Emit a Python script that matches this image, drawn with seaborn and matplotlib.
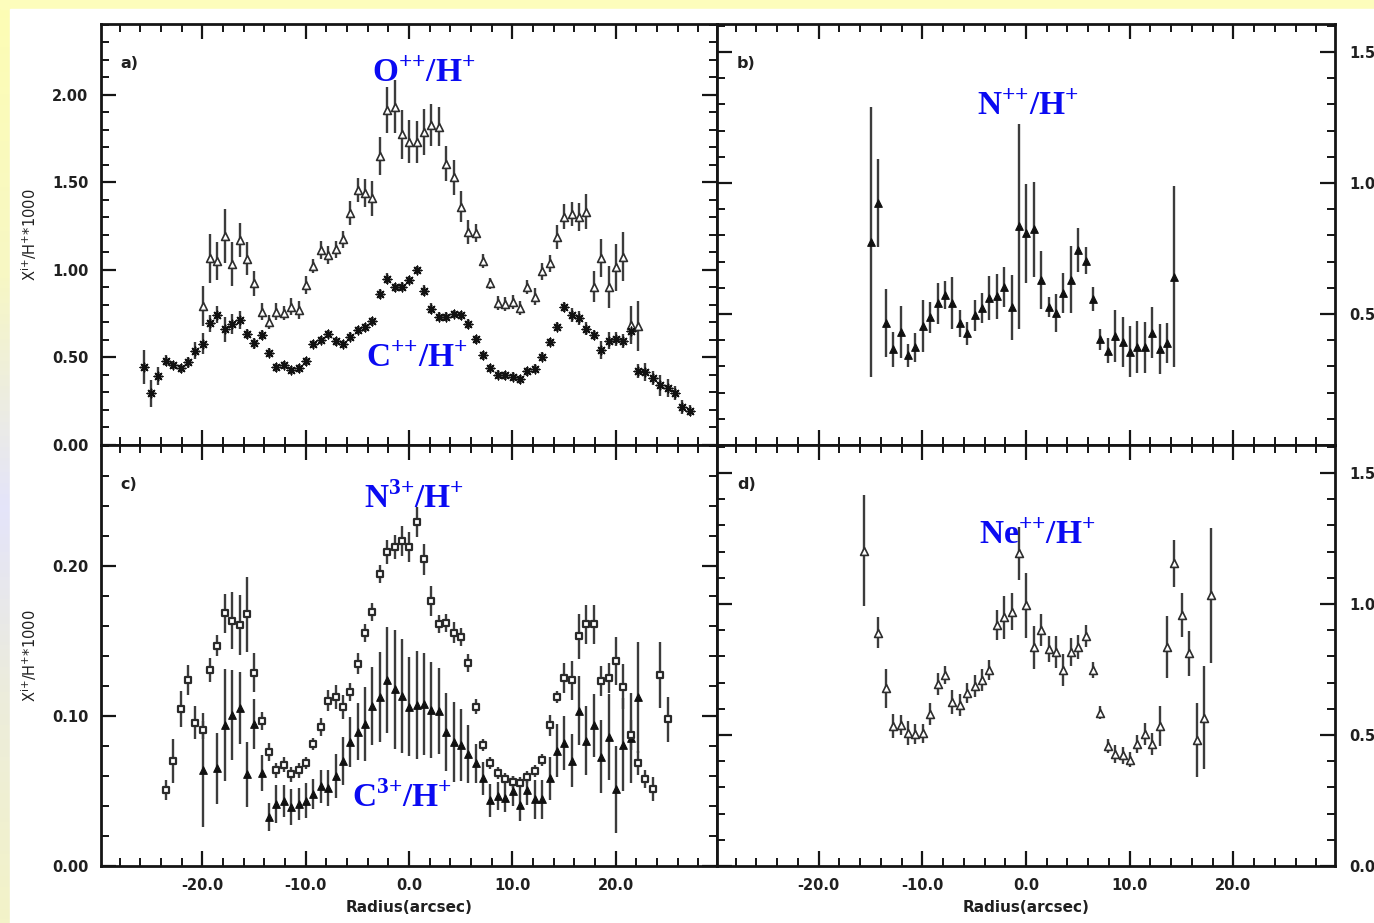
import numpy as np
import matplotlib
matplotlib.use("Agg")
import matplotlib.pyplot as plt
import seaborn as sns
from matplotlib.ticker import MultipleLocator, FormatStrFormatter, FixedLocator
from matplotlib.patches import Rectangle
from matplotlib.colors import LinearSegmentedColormap

# ---------------------------------------------------------------- data
# slit positions along the cut (arcsec)
radius = [
    -25.67, -24.96, -24.24, -23.53, -22.81, -22.10, -21.39, -20.67, -19.96, -19.24,
    -18.53, -17.82, -17.10, -16.39, -15.67, -14.96, -14.25, -13.53, -12.82, -12.10,
    -11.39, -10.68, -9.96, -9.25, -8.53, -7.82, -7.11, -6.39, -5.68, -4.96,
    -4.25, -3.54, -2.82, -2.11, -1.39, -0.68, 0.03, 0.74, 1.46, 2.17,
    2.89, 3.60, 4.31, 5.03, 5.74, 6.46, 7.17, 7.88, 8.60, 9.31,
    10.03, 10.74, 11.45, 12.17, 12.88, 13.60, 14.31, 15.02, 15.74, 16.45,
    17.17, 17.88, 18.59, 19.31, 20.02, 20.74, 21.45, 22.16, 22.88, 23.59,
    24.31, 25.02, 25.73, 26.45, 27.16,
]

# a) C++/H+ (slits 0-74)
c2_val = [
    0.444, 0.295, 0.394, 0.482, 0.457, 0.438, 0.472, 0.539, 0.577, 0.695,
    0.745, 0.661, 0.691, 0.714, 0.634, 0.581, 0.627, 0.528, 0.444, 0.457,
    0.429, 0.438, 0.478, 0.577, 0.600, 0.634, 0.592, 0.577, 0.619, 0.657,
    0.672, 0.707, 0.863, 0.950, 0.901, 0.905, 0.943, 1.000, 0.882, 0.779,
    0.733, 0.733, 0.749, 0.741, 0.691, 0.604, 0.512, 0.440, 0.402, 0.398,
    0.390, 0.375, 0.421, 0.436, 0.505, 0.589, 0.676, 0.787, 0.741, 0.726,
    0.665, 0.627, 0.543, 0.596, 0.604, 0.592, 0.650, 0.421, 0.417, 0.383,
    0.341, 0.326, 0.295, 0.219, 0.196,
]
c2_err = [
    0.097, 0.076, 0.05, 0.03, 0.025, 0.025, 0.03, 0.05, 0.06, 0.05,
    0.05, 0.07, 0.055, 0.05, 0.03, 0.03, 0.03, 0.025, 0.025, 0.025,
    0.025, 0.025, 0.025, 0.025, 0.025, 0.025, 0.025, 0.025, 0.025, 0.025,
    0.025, 0.025, 0.03, 0.03, 0.025, 0.025, 0.025, 0.025, 0.03, 0.03,
    0.025, 0.025, 0.025, 0.025, 0.03, 0.025, 0.025, 0.025, 0.025, 0.025,
    0.025, 0.025, 0.025, 0.025, 0.025, 0.025, 0.025, 0.03, 0.04, 0.04,
    0.035, 0.03, 0.05, 0.05, 0.04, 0.04, 0.05, 0.04, 0.05, 0.04,
    0.06, 0.05, 0.04, 0.04, 0.03,
]

# a) O++/H+ (slits 8-67)
o2_first = 8
o2_val = [
    0.794, 1.067, 1.050, 1.194, 1.034, 1.171, 1.065, 0.924, 0.762, 0.703,
    0.762, 0.752, 0.790, 0.771, 0.914, 1.023, 1.114, 1.084, 1.118, 1.175,
    1.324, 1.457, 1.438, 1.410, 1.651, 1.914, 1.933, 1.775, 1.733, 1.733,
    1.789, 1.830, 1.819, 1.606, 1.530, 1.362, 1.217, 1.210, 1.053, 0.924,
    0.813, 0.806, 0.817, 0.781, 0.905, 0.848, 0.992, 1.038, 1.187, 1.305,
    1.320, 1.305, 1.333, 0.905, 1.067, 0.905, 1.015, 1.076, 0.686, 0.680,
]
o2_err = [
    0.116, 0.141, 0.11, 0.157, 0.126, 0.097, 0.092, 0.07, 0.05, 0.04,
    0.05, 0.04, 0.05, 0.05, 0.05, 0.04, 0.05, 0.05, 0.05, 0.05,
    0.07, 0.07, 0.08, 0.10, 0.11, 0.13, 0.15, 0.14, 0.124, 0.12,
    0.13, 0.12, 0.11, 0.10, 0.10, 0.09, 0.07, 0.05, 0.04, 0.03,
    0.04, 0.04, 0.04, 0.04, 0.04, 0.05, 0.05, 0.05, 0.07, 0.07,
    0.07, 0.08, 0.10, 0.089, 0.11, 0.12, 0.136, 0.138, 0.108, 0.143,
]

# b) N++/H+ (slits 15-56)
n2_first = 15
n2_val = [
    0.774, 0.925, 0.467, 0.366, 0.431, 0.342, 0.373, 0.454, 0.487, 0.541,
    0.574, 0.541, 0.464, 0.426, 0.495, 0.523, 0.561, 0.567, 0.602, 0.526,
    0.835, 0.808, 0.823, 0.630, 0.526, 0.505, 0.579, 0.630, 0.744, 0.704,
    0.556, 0.403, 0.360, 0.416, 0.394, 0.356, 0.373, 0.373, 0.429, 0.365,
    0.388, 0.642,
]
n2_err = [
    0.515, 0.168, 0.13, 0.067, 0.098, 0.045, 0.055, 0.10, 0.06, 0.079,
    0.053, 0.10, 0.05, 0.045, 0.058, 0.057, 0.083, 0.087, 0.076, 0.124,
    0.391, 0.188, 0.18, 0.11, 0.038, 0.072, 0.076, 0.128, 0.083, 0.051,
    0.046, 0.041, 0.048, 0.099, 0.095, 0.098, 0.099, 0.097, 0.097, 0.095,
    0.076, 0.345,
]

# c) N3+/H+ (slits 3-71)
n3_first = 3
n3_val = [
    0.0507, 0.0702, 0.1044, 0.1240, 0.0956, 0.0907, 0.1307, 0.1467, 0.1684, 0.1636,
    0.1604, 0.1680, 0.1290, 0.0969, 0.0758, 0.0640, 0.0676, 0.0613, 0.0640, 0.0689,
    0.0813, 0.0924, 0.1102, 0.1124, 0.1058, 0.1162, 0.1347, 0.1551, 0.1696, 0.1947,
    0.2096, 0.2129, 0.2169, 0.2129, 0.2296, 0.2044, 0.1769, 0.1613, 0.1618, 0.1556,
    0.1524, 0.1356, 0.1062, 0.0807, 0.0684, 0.0618, 0.0582, 0.0562, 0.0556, 0.0596,
    0.0633, 0.0707, 0.0940, 0.1129, 0.1251, 0.1240, 0.1533, 0.1613, 0.1613, 0.1236,
    0.1253, 0.1369, 0.1196, 0.0873, 0.0689, 0.0578, 0.0511, 0.1271, 0.0978,
]
n3_err = [
    0.0065, 0.0148, 0.012, 0.010, 0.011, 0.006, 0.0078, 0.007, 0.013, 0.019,
    0.020, 0.025, 0.013, 0.006, 0.006, 0.005, 0.005, 0.005, 0.005, 0.004,
    0.004, 0.006, 0.007, 0.008, 0.008, 0.006, 0.007, 0.006, 0.006, 0.006,
    0.008, 0.008, 0.010, 0.010, 0.010, 0.0106, 0.010, 0.006, 0.006, 0.007,
    0.006, 0.006, 0.005, 0.004, 0.004, 0.004, 0.004, 0.004, 0.004, 0.004,
    0.004, 0.004, 0.007, 0.004, 0.010, 0.013, 0.015, 0.013, 0.013, 0.010,
    0.010, 0.016, 0.015, 0.010, 0.008, 0.006, 0.008, 0.022, 0.015,
]

# c) C3+/H+ (slits 8-67, slit 9 missing)
c3_first = 8
c3_val = [
    0.0640, np.nan, 0.0651, 0.0940, 0.1004, 0.1056, 0.0611, 0.0947, 0.0622, 0.0329,
    0.0413, 0.0436, 0.0391, 0.0413, 0.0436, 0.0480, 0.0533, 0.0518, 0.0600, 0.0702,
    0.0829, 0.0896, 0.0947, 0.1067, 0.1124, 0.1240, 0.1178, 0.1133, 0.1062, 0.1071,
    0.1080, 0.1040, 0.1033, 0.0896, 0.0829, 0.0807, 0.0747, 0.0684, 0.0584, 0.0440,
    0.0467, 0.0451, 0.0502, 0.0407, 0.0507, 0.0444, 0.0444, 0.0584, 0.0769, 0.0818,
    0.0702, 0.1036, 0.0836, 0.0940, 0.0729, 0.0858, 0.0511, 0.0807, 0.0851, 0.1124,
]
c3_err = [
    0.0378, np.nan, 0.0238, 0.0374, 0.030, 0.024, 0.0217, 0.0167, 0.012, 0.0094,
    0.0126, 0.0106, 0.012, 0.0106, 0.0117, 0.010, 0.011, 0.012, 0.0144, 0.016,
    0.0167, 0.019, 0.0247, 0.026, 0.030, 0.0353, 0.0397, 0.038, 0.033, 0.036,
    0.034, 0.032, 0.0286, 0.026, 0.0267, 0.024, 0.0194, 0.013, 0.011, 0.011,
    0.0094, 0.009, 0.010, 0.0106, 0.0103, 0.0128, 0.013, 0.0144, 0.0178, 0.018,
    0.0178, 0.0228, 0.023, 0.021, 0.0244, 0.0286, 0.029, 0.031, 0.030, 0.037,
]

# d) Ne++/H+ (slits 14-61, slit 15 missing)
ne2_first = 14
ne2_val = [
    1.204, np.nan, 0.891, 0.678, 0.534, 0.538, 0.506, 0.503, 0.506, 0.580,
    0.695, 0.730, 0.627, 0.614, 0.659, 0.687, 0.710, 0.748, 0.920, 0.949,
    0.971, 1.193, 0.996, 0.835, 0.901, 0.827, 0.817, 0.748, 0.817, 0.835,
    0.878, 0.748, 0.585, 0.458, 0.427, 0.422, 0.405, 0.466, 0.504, 0.466,
    0.534, 0.837, 1.155, 0.958, 0.812, 0.481, 0.566, 1.034,
]
ne2_err = [
    0.213, np.nan, 0.06, 0.074, 0.045, 0.038, 0.046, 0.038, 0.036, 0.043,
    0.041, 0.035, 0.046, 0.041, 0.038, 0.043, 0.041, 0.038, 0.057, 0.083,
    0.07, 0.10, 0.124, 0.083, 0.06, 0.05, 0.06, 0.06, 0.054, 0.045,
    0.041, 0.032, 0.024, 0.025, 0.033, 0.032, 0.029, 0.035, 0.041, 0.041,
    0.075, 0.118, 0.089, 0.083, 0.085, 0.143, 0.197, 0.258,
]

panel_tags = ["a)", "b)", "c)", "d)"]
y_label = r"X$^{\mathsf{i{+}}}$/H$^{\mathsf{{+}}}$*1000"
x_label = "Radius(arcsec)"

# ---------------------------------------------------------------- style
sns.set_theme(style="ticks")
plt.rcParams["font.family"] = ["DejaVu Sans"]
plt.rcParams["mathtext.fontset"] = "custom"
plt.rcParams["mathtext.rm"] = "Liberation Serif"
plt.rcParams["mathtext.bf"] = "Liberation Serif:bold"
plt.rcParams["mathtext.sf"] = "DejaVu Sans"
plt.rcParams["mathtext.it"] = "DejaVu Sans:italic"

W, H = 1374, 923
fig = plt.figure(figsize=(W / 100, H / 100), dpi=100)
fig.patch.set_facecolor("white")

# pastel frame behind the plotting sheet
bg = fig.add_axes([0, 0, 1, 1], zorder=-10)
bg.set_xlim(0, W)
bg.set_ylim(H, 0)
bg.axis("off")
frame_cmap = LinearSegmentedColormap.from_list(
    "frame",
    [(0.0, "#fdfdb4"), (0.3, "#f7f7c4"), (0.55, "#e4e4fa"),
     (0.75, "#ececdc"), (1.0, "#f3f3c8")],
)
bg.imshow(np.linspace(0, 1, 256)[:, None], cmap=frame_cmap, aspect="auto",
          extent=(0, 10, H, 0), zorder=0)
bg.add_patch(Rectangle((0, 0), W, 9, color="#fdfdbc", zorder=1))
bg.add_patch(Rectangle((10, 9), W - 10, H - 9, color="white", zorder=2))


def box(px_left, px_top, px_w, px_h):
    return [px_left / W, 1 - (px_top + px_h) / H, px_w / W, px_h / H]


ax_a = fig.add_axes(box(101, 24, 616, 421))
ax_b = fig.add_axes(box(717, 24, 618, 421))
ax_c = fig.add_axes(box(101, 445, 616, 421))
ax_d = fig.add_axes(box(717, 445, 618, 421))

rad = np.array(radius)
ERR_COLOR = "#3c3c3c"


def series(ax, first, values, errors, marker, size, face, edge, lw=1.2):
    x = rad[first:first + len(values)]
    y = np.array(values, dtype=float)
    e = np.array(errors, dtype=float)
    ax.errorbar(x, y, yerr=e, fmt="none", ecolor=ERR_COLOR, elinewidth=1.7,
                capsize=0, zorder=2)
    if face is None:
        sns.scatterplot(x=x, y=y, marker=marker, s=size, color=edge,
                        linewidth=lw, ax=ax, zorder=3, legend=False)
    else:
        sns.scatterplot(x=x, y=y, marker=marker, s=size, facecolor=face,
                        edgecolor=edge, linewidth=lw, ax=ax, zorder=3,
                        legend=False)


# a) O++ and C++
series(ax_a, o2_first, o2_val, o2_err, "^", 32, "white", "#2e2e2e", 1.2)
series(ax_a, 0, c2_val, c2_err, (8, 2, 0), 38, None, "#111111", 1.1)
# b) N++
series(ax_b, n2_first, n2_val, n2_err, "^", 30, "#111111", "#111111", 0.8)
# c) N3+ and C3+
series(ax_c, c3_first, c3_val, c3_err, "^", 30, "#111111", "#111111", 0.8)
series(ax_c, n3_first, n3_val, n3_err, "s", 24, "white", "#2a2a2a", 1.6)
# d) Ne++
series(ax_d, ne2_first, ne2_val, ne2_err, "^", 32, "white", "#2e2e2e", 1.2)

ylims = {ax_a: 2.405, ax_b: 1.607, ax_c: 0.2807, ax_d: 1.607}
ymajor = {ax_a: 0.5, ax_b: 0.5, ax_c: 0.1, ax_d: 0.5}
yminor = {ax_a: 0.1, ax_b: 0.1, ax_c: 0.02, ax_d: 0.1}

for ax in (ax_a, ax_b, ax_c, ax_d):
    ax.set_xlim(-29.8, 29.8)
    ax.set_ylim(0, ylims[ax])
    ax.set_facecolor("white")
    ax.xaxis.set_major_locator(MultipleLocator(10))
    ax.xaxis.set_minor_locator(MultipleLocator(2))
    ax.yaxis.set_major_locator(MultipleLocator(ymajor[ax]))
    ax.yaxis.set_minor_locator(MultipleLocator(yminor[ax]))
    ax.xaxis.set_major_formatter(FormatStrFormatter("%.1f"))
    ax.yaxis.set_major_formatter(FormatStrFormatter("%.2f"))
    for sp in ax.spines.values():
        sp.set_linewidth(2.0)
        sp.set_color("#151515")
    ax.tick_params(which="both", direction="in", top=True, bottom=True,
                   left=True, right=True, color="#151515",
                   labelbottom=False, labeltop=False,
                   labelleft=False, labelright=False)
    ax.tick_params(which="major", length=11, width=1.6)
    ax.tick_params(which="minor", length=6, width=1.4)
    ax.set_xlabel("")
    ax.set_ylabel("")

ax_b.yaxis.set_major_locator(FixedLocator([0.5, 1.0, 1.5]))

tick_font = dict(labelsize=10.5, labelcolor="#202020")
ax_a.tick_params(axis="y", labelleft=True, pad=9, **tick_font)
ax_c.tick_params(axis="y", labelleft=True, pad=9, **tick_font)
ax_b.tick_params(axis="y", labelright=True, pad=10, **tick_font)
ax_d.tick_params(axis="y", labelright=True, pad=10, **tick_font)
ax_c.tick_params(axis="x", labelbottom=True, pad=9, **tick_font)
ax_d.tick_params(axis="x", labelbottom=True, pad=9, **tick_font)

for ax in (ax_a, ax_b, ax_c, ax_d):
    for lab in ax.get_xticklabels() + ax.get_yticklabels():
        lab.set_fontweight("bold")

for ax in (ax_a, ax_c):
    ax.set_ylabel(y_label, fontsize=10.5, color="#202020")
    ax.yaxis.set_label_coords(-0.100, 0.5)
for ax in (ax_c, ax_d):
    ax.set_xlabel(x_label, fontsize=11, fontweight="bold", color="#202020")
    ax.xaxis.set_label_coords(0.5, -0.080)

for ax, tag in zip((ax_a, ax_b, ax_c, ax_d), panel_tags):
    ax.text(0.032, 0.905, tag, transform=ax.transAxes, fontsize=11.5,
            fontweight="bold", color="#202020", ha="left", va="center")

BLUE = "#0a0af2"
ion_kw = dict(fontsize=24, color=BLUE, ha="left", va="baseline", zorder=5)
ax_a.text(-3.6, 2.074, r"$\mathbf{O}^{\mathbf{{+}{+}}}\mathbf{/H}^{\mathbf{{+}}}$", **ion_kw)
ax_a.text(-4.2, 0.446, r"$\mathbf{C}^{\mathbf{{+}{+}}}\mathbf{/H}^{\mathbf{{+}}}$", **ion_kw)
ax_b.text(-4.7, 1.26, r"$\mathbf{N}^{\mathbf{{+}{+}}}\mathbf{/H}^{\mathbf{{+}}}$", **ion_kw)
ax_c.text(-4.4, 0.2387, r"$\mathbf{N}^{\mathbf{3{+}}}\mathbf{/H}^{\mathbf{{+}}}$", **ion_kw)
ax_c.text(-5.5, 0.0393, r"$\mathbf{C}^{\mathbf{3{+}}}\mathbf{/H}^{\mathbf{{+}}}$", **ion_kw)
ax_d.text(-4.5, 1.229, r"$\mathbf{Ne}^{\mathbf{{+}{+}}}\mathbf{/H}^{\mathbf{{+}}}$", **ion_kw)

fig.savefig("out.png", dpi=100)
